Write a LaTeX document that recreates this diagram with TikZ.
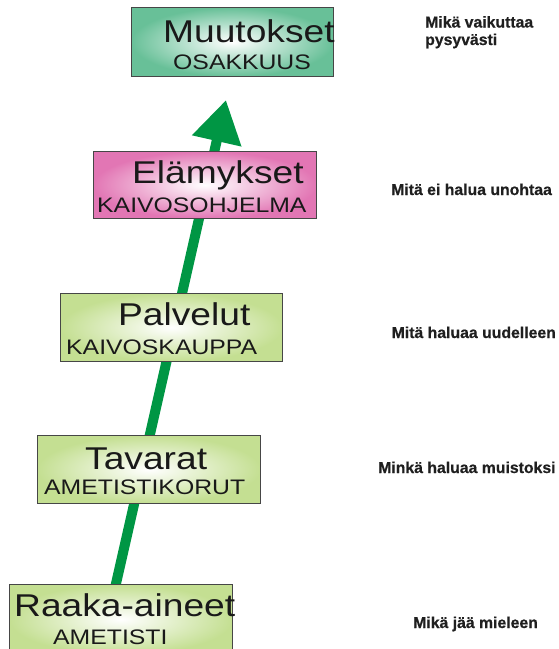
\documentclass[tikz,border=0pt]{standalone}
\usepackage{fontspec}
\usetikzlibrary{arrows.meta}
\newfontfamily\boxfont[FakeStretch=1.18]{Liberation Sans}
\newfontfamily\notefont[FakeBold=0.6]{Liberation Sans}
\definecolor{tealbox}{RGB}{104,192,152}
\definecolor{pinkbox}{RGB}{226,118,180}
\definecolor{greenbox}{RGB}{196,223,146}
\definecolor{arrowgreen}{RGB}{0,150,68}
\definecolor{edge}{RGB}{70,70,70}
\tikzset{
  box/.style={draw=edge, line width=0.8pt, inner sep=0pt, minimum width=#1},
  boxshade/.style={inner color=white, outer color=#1},
  title/.style={anchor=base west, inner sep=0pt, font=\boxfont\fontsize{31.5}{31.5}\selectfont, text=black!90},
  subtitle/.style={anchor=base west, inner sep=0pt, font=\boxfont\fontsize{21}{21}\selectfont, text=black!90},
  note/.style={anchor=base west, inner sep=0pt, font=\notefont\bfseries\fontsize{15.8}{17.5}\selectfont, text=black!88, align=left},
  bigarrow/.style={draw=arrowgreen, line width=10pt, -{Triangle[length=42pt,width=48pt]}}
}
\begin{document}
\begin{tikzpicture}[x=1pt,y=-1pt]
\useasboundingbox (0,0) rectangle (558,649);
% arrow (behind boxes)
\coordinate (arrowstart) at (110,610);
\coordinate (arrowtip) at (226,100);
\draw[bigarrow] (arrowstart) -- (arrowtip);
% boxes
\node[box=202pt, minimum height=69pt, boxshade=tealbox, anchor=north west] (b5) at (131,7) {};
\node[box=223pt, minimum height=67pt, boxshade=pinkbox, anchor=north west] (b4) at (93,151) {};
\node[box=222pt, minimum height=68pt, boxshade=greenbox, anchor=north west] (b3) at (60,293) {};
\node[box=223pt, minimum height=68pt, boxshade=greenbox, anchor=north west] (b2) at (37,435) {};
\node[box=223pt, minimum height=70pt, boxshade=greenbox, anchor=north west] (b1) at (9,584) {};
% box texts
\node[title] (t5) at (163,42) {Muutokset};
\node[subtitle] (s5) at (173,69) {OSAKKUUS};
\node[title] (t4) at (132,183) {Elämykset};
\node[subtitle] (s4) at (97,212.5) {KAIVOSOHJELMA};
\node[title] (t3) at (118,325) {Palvelut};
\node[subtitle] (s3) at (66,354) {KAIVOSKAUPPA};
\node[title] (t2) at (85,469) {Tavarat};
\node[subtitle] (s2) at (44,494) {AMETISTIKORUT};
\node[title] (t1) at (14,616.5) {Raaka-aineet};
\node[subtitle] (s1) at (53,644) {AMETISTI};
% notes
\node[note] (n5) at (425,45) {Mikä vaikuttaa\\pysyvästi};
\node[note] (n4) at (391,195) {Mitä ei halua unohtaa};
\node[note] (n3) at (391.5,338) {Mitä haluaa uudelleen};
\node[note] (n2) at (378,473) {Minkä haluaa muistoksi};
\node[note] (n1) at (413,628) {Mikä jää mieleen};
\end{tikzpicture}
\end{document}
